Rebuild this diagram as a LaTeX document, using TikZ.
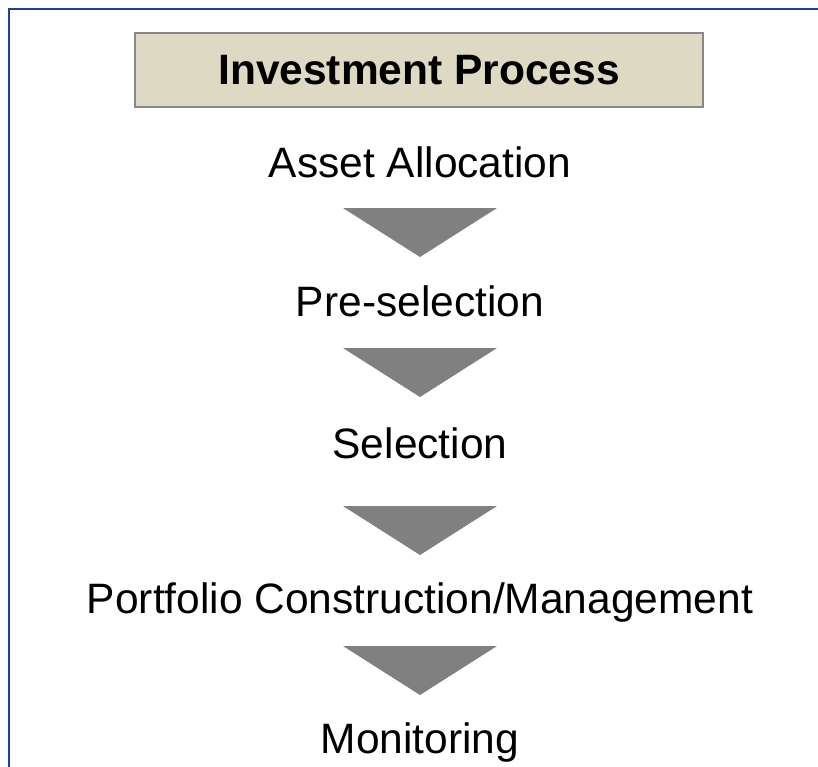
\documentclass[tikz,border=0pt]{standalone}
\usepackage{fontspec}
\setmainfont{Liberation Sans}
\definecolor{framecol}{RGB}{31,63,153}
\definecolor{titlefill}{RGB}{221,217,195}
\definecolor{titleedge}{RGB}{136,136,136}
\definecolor{trifill}{RGB}{128,128,128}
\begin{document}
\begin{tikzpicture}[x=1pt,y=-1pt,
  stepnode/.style={anchor=base,inner sep=0pt,font=\fontsize{42.5}{50}\selectfont},
  titlebox/.style={draw=titleedge,line width=2pt,fill=titlefill,minimum width=568pt,minimum height=74pt,inner sep=0pt,font=\bfseries\fontsize{42.5}{50}\selectfont},
  downtri/.style={fill=trifill},
  frameline/.style={draw=framecol,line width=2.5pt}]
\useasboundingbox (0,0) rectangle (818,766);
\fill[white] (0,0) rectangle (818,766);
\draw[frameline] (9,767) -- (9,9) -- (819,9);
\node[titlebox] (title) at (419,70) {Investment Process};
\node[stepnode] (s1) at (420,177) {Asset Allocation};
\node[stepnode] (s2) at (420,316) {Pre-selection};
\node[stepnode] (s3) at (420,458) {Selection};
\node[stepnode] (s4) at (420,613) {Portfolio Construction/Management};
\node[stepnode] (s5) at (420,753) {Monitoring};
\coordinate (t1) at (420,208);
\coordinate (t2) at (420,348);
\coordinate (t3) at (420,506);
\coordinate (t4) at (420,646);
\foreach \t in {t1,t2,t3,t4}{
  \fill[downtri] ([xshift=-77pt]\t) -- ([xshift=77pt]\t) -- ([yshift=-49pt]\t) -- cycle;
}
\end{tikzpicture}
\end{document}
